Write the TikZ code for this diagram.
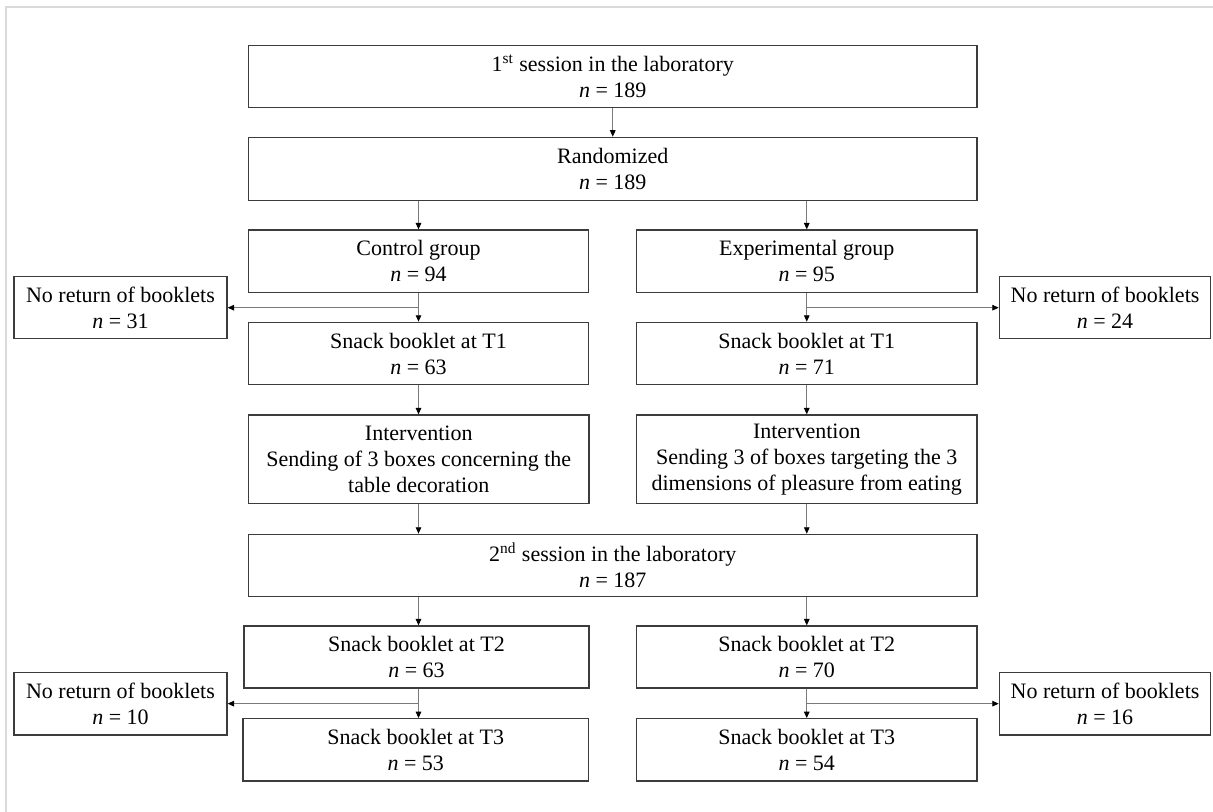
\documentclass[tikz,border=0pt]{standalone}
\usepackage{fontspec}
\setmainfont{Liberation Serif}
\usetikzlibrary{arrows.meta}
\definecolor{boxline}{HTML}{3C3C3C}
\definecolor{conn}{HTML}{7A7A7A}
\definecolor{frame}{HTML}{DADADA}
\begin{document}
\begin{tikzpicture}[x=0.5pt,y=-0.5pt,
  box/.style={draw=boxline, line width=0.65pt, inner sep=0pt, align=center,
    font=\fontsize{11}{13}\selectfont},
  sz/.style 2 args={minimum width=#1pt, minimum height=#2pt},
  arr/.style={draw=conn, line width=0.45pt, -{Triangle[length=3.2pt,width=2.8pt,color=black]}}]
\useasboundingbox (0,0) rectangle (1213,812);
\draw[frame, line width=0.6pt] (6,812) -- (6,7) -- (1213,7);
% boxes
\node[box, sz={364.25}{31.1}] (top) at (612.75,76.6) {1\textsuperscript{st} session in the laboratory\\\textit{n} = 189};
\node[box, sz={364.25}{31.5}] (rand) at (612.75,168.8) {Randomized\\\textit{n} = 189};
\node[box, sz={170}{31.25}] (ctrl) at (418.5,261.25) {Control group\\\textit{n} = 94};
\node[box, sz={170.25}{31.25}] (exp) at (806.75,261.25) {Experimental group\\\textit{n} = 95};
\node[box, sz={106.5}{31}] (nrL1) at (120.5,307.7) {No return of booklets\\\textit{n} = 31};
\node[box, sz={105.7}{31}] (nrR1) at (1105,307.7) {No return of booklets\\\textit{n} = 24};
\node[box, sz={170}{31.2}] (t1L) at (418.5,353.5) {Snack booklet at T1\\\textit{n} = 63};
\node[box, sz={170.25}{31.2}] (t1R) at (806.75,353.5) {Snack booklet at T1\\\textit{n} = 71};
\node[box, sz={170.25}{44.35}] (intL) at (418.75,459.35) {Intervention\\Sending of 3 boxes concerning the\\table decoration};
\node[box, sz={170.25}{44.35}] (intR) at (806.75,459.35) {Intervention\\Sending 3 of boxes targeting the 3\\dimensions of pleasure from eating};
\node[box, sz={364.25}{31.2}] (ses2) at (612.75,565.5) {2\textsuperscript{nd} session in the laboratory\\\textit{n} = 187};
\node[box, sz={172.5}{31}] (t2L) at (416.5,657) {Snack booklet at T2\\\textit{n} = 63};
\node[box, sz={170.25}{31}] (t2R) at (806.75,657) {Snack booklet at T2\\\textit{n} = 70};
\node[box, sz={106.5}{31.35}] (nrL2) at (120.5,703.65) {No return of booklets\\\textit{n} = 10};
\node[box, sz={105.7}{31.35}] (nrR2) at (1105,703.65) {No return of booklets\\\textit{n} = 16};
\node[box, sz={172.75}{31.15}] (t3L) at (415.75,749.85) {Snack booklet at T3\\\textit{n} = 53};
\node[box, sz={170.25}{31.15}] (t3R) at (806.75,749.85) {Snack booklet at T3\\\textit{n} = 54};
% connectors
\draw[arr] (top.south) -- (rand.north);
\draw[arr] (rand.south -| ctrl.north) -- (ctrl.north);
\draw[arr] (rand.south -| exp.north) -- (exp.north);
\draw[arr] (ctrl.south) -- (t1L.north);
\draw[arr] (exp.south) -- (t1R.north);
\draw[arr] (ctrl.south |- nrL1.east) -- (nrL1.east);
\draw[arr] (exp.south |- nrR1.west) -- (nrR1.west);
\draw[arr] (t1L.south) -- (intL.north -| t1L.south);
\draw[arr] (t1R.south) -- (intR.north -| t1R.south);
\draw[arr] (intL.south -| t1L.south) -- (ses2.north -| t1L.south);
\draw[arr] (intR.south -| t1R.south) -- (ses2.north -| t1R.south);
\draw[arr] (ses2.south -| t1L.south) -- (t2L.north -| t1L.south);
\draw[arr] (ses2.south -| t1R.south) -- (t2R.north -| t1R.south);
\draw[arr] (t2L.south -| t1L.south) -- (t3L.north -| t1L.south);
\draw[arr] (t2R.south -| t1R.south) -- (t3R.north -| t1R.south);
\draw[arr] (t2L.south -| t1L.south) |- (nrL2.east);
\draw[arr] (t2R.south -| t1R.south) |- (nrR2.west);
\end{tikzpicture}
\end{document}
